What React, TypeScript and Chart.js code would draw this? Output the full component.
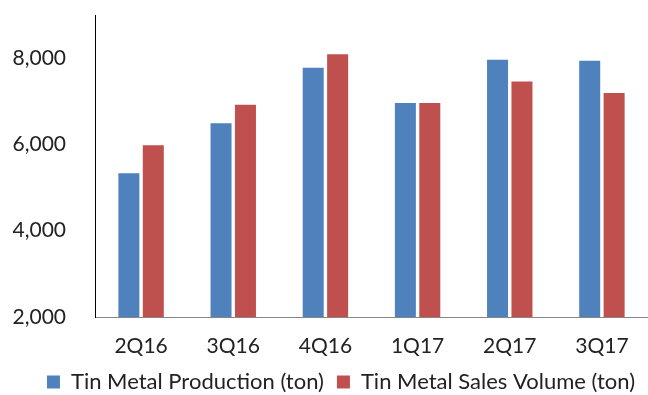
import React, { useEffect, useRef } from "react";
import { Chart, registerables } from "chart.js";

Chart.register(...registerables);

const quarters = ["2Q16", "3Q16", "4Q16", "1Q17", "2Q17", "3Q17"];
const production = [5330, 6490, 7780, 6960, 7960, 7940];
const salesVolume = [5980, 6920, 8090, 6960, 7460, 7190];
const yTicks = [2000, 4000, 6000, 8000];

const FONT = "Lato, 'Open Sans', sans-serif";

// Nudges the bottom legend a little to the right of the canvas centre.
const legendShift = {
  id: "legendShift",
  afterLayout(chart: any) {
    const lg = chart.legend;
    if (lg) {
      lg.left += 17;
      lg.right += 17;
    }
  },
};

export default function App() {
  const canvasRef = useRef<HTMLCanvasElement | null>(null);

  useEffect(() => {
    document.body.style.margin = "0";
    const canvas = canvasRef.current;
    if (!canvas) return;
    const chart = new Chart(canvas, {
      type: "bar",
      data: {
        labels: quarters,
        datasets: [
          {
            label: "Tin Metal Production (ton)",
            data: production,
            backgroundColor: "#4F81BD",
            barPercentage: 0.86,
            categoryPercentage: 0.53,
          },
          {
            label: "Tin Metal Sales Volume (ton)",
            data: salesVolume,
            backgroundColor: "#C0504D",
            barPercentage: 0.86,
            categoryPercentage: 0.53,
          },
        ],
      },
      plugins: [legendShift],
      options: {
        responsive: false,
        animation: false,
        layout: { padding: { left: 0, right: 0, top: 15, bottom: -8 } },
        plugins: {
          tooltip: { enabled: false },
          legend: {
            position: "bottom",
            labels: {
              color: "#222",
              font: { family: FONT, size: 22 },
              boxWidth: 13,
              boxHeight: 13,
              padding: 13,
            },
          },
        },
        scales: {
          x: {
            grid: { display: false, drawTicks: false },
            border: { display: true, color: "#868686", width: 1 },
            afterFit: (axis: any) => {
              axis.height = 41;
            },
            ticks: {
              color: "#222",
              font: { family: FONT, size: 21 },
              padding: 17,
            },
          },
          y: {
            min: 2000,
            max: 9000,
            grid: { display: false, drawTicks: false },
            border: { display: true, color: "#000", width: 1 },
            afterBuildTicks: (axis: any) => {
              axis.ticks = yTicks.map((v) => ({ value: v }));
            },
            afterFit: (axis: any) => {
              axis.width = 95;
              axis.paddingTop = 0;
              axis.paddingBottom = 0;
            },
            ticks: {
              color: "#222",
              font: { family: FONT, size: 21 },
              padding: 29,
              callback: (v: any) => Number(v).toLocaleString("en-US"),
            },
          },
        },
      },
    });
    return () => chart.destroy();
  }, []);

  return (
    <div style={{ width: 648, height: 395 }}>
      <canvas ref={canvasRef} width={648} height={395} />
    </div>
  );
}
